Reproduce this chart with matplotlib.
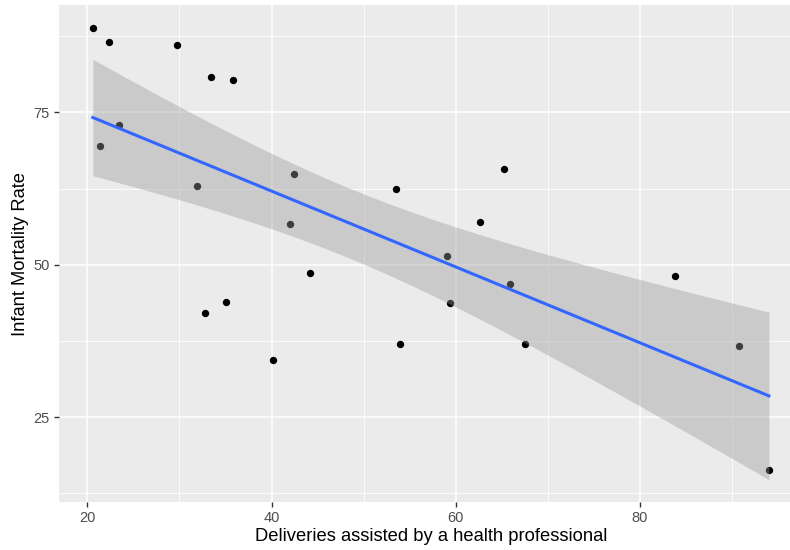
import numpy as np
import matplotlib
matplotlib.use('Agg')
import matplotlib.pyplot as plt

# Deliveries assisted by a health professional (%) vs infant mortality rate
deliveries = [20.6, 22.4, 29.7, 33.4, 35.8, 23.4, 21.4, 31.9, 42.4, 42.0,
              44.2, 35.1, 32.8, 40.2, 65.2, 53.5, 62.6, 59.1, 65.9, 59.4,
              53.9, 67.5, 83.8, 90.8, 94.0]
mortality = [88.8, 86.5, 86.0, 80.8, 80.3, 72.9, 69.5, 63.0, 64.9, 56.7,
             48.7, 43.9, 42.1, 34.4, 65.7, 62.5, 57.0, 51.5, 46.8, 43.7,
             37.0, 37.0, 48.2, 36.7, 16.4]

x_ticks = [20, 40, 60, 80]
y_ticks = [25, 50, 75]

plt.rcParams['font.family'] = ['Liberation Sans', 'DejaVu Sans']

x = np.array(deliveries)
y = np.array(mortality)
n = len(x)

# linear fit with 95% confidence band (like geom_smooth(method='lm'))
slope, intercept = np.polyfit(x, y, 1)
resid = y - (slope * x + intercept)
s = np.sqrt(np.sum(resid ** 2) / (n - 2))
sxx = np.sum((x - x.mean()) ** 2)
t_crit = 2.0687  # t(0.975, df=23)
xs = np.linspace(x.min(), x.max(), 80)
fit = slope * xs + intercept
se = s * np.sqrt(1 / n + (xs - x.mean()) ** 2 / sxx)
lo = fit - t_crit * se
hi = fit + t_crit * se

fig = plt.figure(figsize=(7.9, 5.5), dpi=100)
# panel runs a little past the right edge, as in the reference
ax = fig.add_axes([59 / 790, 48 / 550, (803 - 59) / 790, (502 - 5) / 550])
ax.set_facecolor('#EBEBEB')
for sp in ax.spines.values():
    sp.set_visible(False)

ax.scatter(x, y, s=28, color='black', zorder=3, linewidths=0)
ax.fill_between(xs, lo, hi, color='#999999', alpha=0.4, linewidth=0, zorder=4)
ax.plot(xs, fit, color='#3366FF', lw=2.2, zorder=5)

ax.set_xlim(16.93, 97.7)
ax.set_ylim(11.1, 92.6)
ax.set_xticks(x_ticks)
ax.set_yticks(y_ticks)
ax.set_xticks([30, 50, 70, 90], minor=True)
ax.set_yticks([12.5, 37.5, 62.5, 87.5], minor=True)
ax.grid(which='major', color='white', lw=1.1, zorder=1)
ax.grid(which='minor', color='white', lw=0.55, zorder=1)
ax.set_axisbelow(True)
ax.tick_params(which='major', length=3.7, width=1.0, color='#333333',
               labelcolor='#4D4D4D', labelsize=10.5, pad=3)
ax.tick_params(which='minor', length=0)

ax.set_xlabel('Deliveries assisted by a health professional', fontsize=13.2, labelpad=2)
ax.set_ylabel('Infant Mortality Rate', fontsize=13.2, labelpad=3)

fig.savefig('out.png', dpi=100)
